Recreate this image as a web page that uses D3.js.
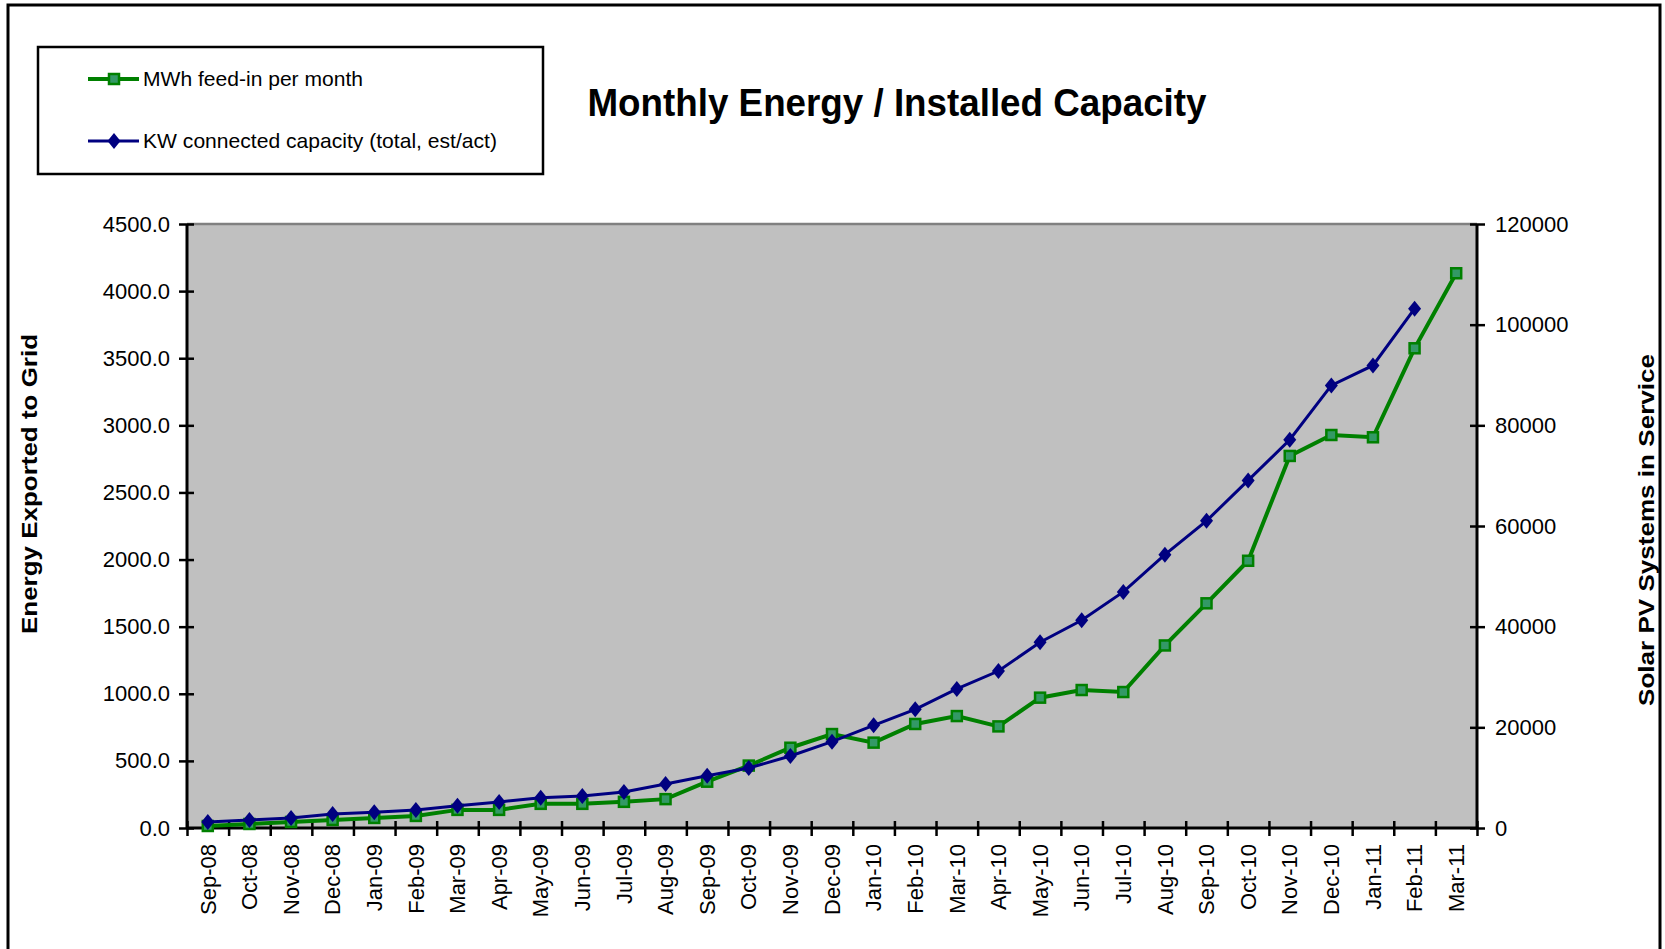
<html>
<head>
	<meta charset="utf-8">
	<title>Monthly Energy / Installed Capacity</title>
	<style>
		body { margin:0; background:#fff; }
		text { font-family:"Liberation Sans", Arial, sans-serif; }
		.axis path { display:none; }
		.axis line { stroke:#000; stroke-width:2.5; }
	</style>
	<script src="https://d3js.org/d3.v7.min.js" charset="utf-8"></script>
</head>

<body>
	<script type="text/javascript">

		/**************Data*****************/
		var months = ["Sep-08","Oct-08","Nov-08","Dec-08","Jan-09","Feb-09","Mar-09","Apr-09","May-09","Jun-09",
			"Jul-09","Aug-09","Sep-09","Oct-09","Nov-09","Dec-09","Jan-10","Feb-10","Mar-10","Apr-10",
			"May-10","Jun-10","Jul-10","Aug-10","Sep-10","Oct-10","Nov-10","Dec-10","Jan-11","Feb-11","Mar-11"];
		// MWh feed-in per month (left axis)
		var feedIn = [15, 30, 45, 60, 75, 90, 135, 135, 180, 180,
			195, 215, 345, 465, 598, 700, 636, 775, 834, 757,
			971, 1028, 1013, 1360, 1674, 1991, 2772, 2928, 2911, 3574, 4133];
		// KW connected capacity (right axis), no value for Mar-11
		var capacity = [1200, 1600, 2000, 2780, 3110, 3580, 4440, 5170, 6030, 6360,
			7150, 8740, 10390, 11920, 14300, 17150, 20400, 23580, 27620, 31190,
			36900, 41260, 46900, 54300, 61030, 69050, 77130, 87930, 91900, 103180, null];
		var leftTicks = [0,500,1000,1500,2000,2500,3000,3500,4000,4500];
		var rightTicks = [0,20000,40000,60000,80000,100000,120000];
		var seriesNames = ["MWh feed-in per month","KW connected capacity (total, est/act)"];

		/**************Basic layout*****************/
		var width = 1665, height = 949;
		var plot = {left:187, right:1477, top:224, bottom:828};
		var green = "#008000", greenFill = "#339966", navy = "#000080";

		var svg = d3.select("body")
				.append("svg")
				.attr("width",width)
				.attr("height",height);

		// outer frame (bottom runs off the page)
		svg.append("rect")
			.attr("x",8).attr("y",5)
			.attr("width",1652).attr("height",1000)
			.attr("fill","#fff")
			.attr("stroke","#000")
			.attr("stroke-width",3);

		/**************Scales*****************/
		var xBand = d3.scaleBand()
				.domain(months)
				.range([plot.left,plot.right])
				.padding(0);
		var xEdge = d3.scaleLinear()
				.domain([0,months.length])
				.range([plot.left,plot.right]);
		var yLeft = d3.scaleLinear()
				.domain([0,4500])
				.range([plot.bottom,plot.top]);
		var yRight = d3.scaleLinear()
				.domain([0,120000])
				.range([plot.bottom,plot.top]);
		function cx(d){ return xBand(d) + xBand.bandwidth()/2; }

		// plot area
		svg.append("rect")
			.attr("x",plot.left).attr("y",plot.top)
			.attr("width",plot.right-plot.left).attr("height",plot.bottom-plot.top)
			.attr("fill","#c0c0c0");
		svg.append("line")
			.attr("x1",plot.left).attr("x2",plot.right)
			.attr("y1",plot.top).attr("y2",plot.top)
			.attr("stroke","#808080").attr("stroke-width",2.5);

		/**************Axes*****************/
		var gLeft = svg.append("g").attr("class","axis")
				.attr("transform","translate("+plot.left+",0)")
				.call(d3.axisLeft(yLeft).tickValues(leftTicks).tickFormat(d3.format(".1f")).tickSize(8).tickPadding(9));
		gLeft.selectAll(".tick line").attr("x1",7);
		gLeft.selectAll("text").attr("font-size",22).attr("fill","#000");

		var gRight = svg.append("g").attr("class","axis")
				.attr("transform","translate("+plot.right+",0)")
				.call(d3.axisRight(yRight).tickValues(rightTicks).tickFormat(d3.format("d")).tickSize(8).tickPadding(10));
		gRight.selectAll(".tick line").attr("x1",-7);
		gRight.selectAll("text").attr("font-size",22).attr("fill","#000");

		// category boundary ticks
		var gTicks = svg.append("g").attr("class","axis")
				.attr("transform","translate(0,"+plot.bottom+")")
				.call(d3.axisBottom(xEdge).tickValues(d3.range(months.length+1)).tickFormat("").tickSize(8));
		gTicks.selectAll(".tick line").attr("y1",-7);

		// month labels
		var gBottom = svg.append("g").attr("class","axis")
				.attr("transform","translate(0,"+plot.bottom+")")
				.call(d3.axisBottom(xBand).tickSize(0).tickPadding(0));
		gBottom.selectAll(".tick line").remove();
		gBottom.selectAll("text")
			.attr("font-size",22)
			.attr("fill","#000")
			.attr("text-anchor","end")
			.attr("transform","rotate(-90)")
			.attr("x",-16).attr("y",0).attr("dy","0.35em");

		// axis lines
		[[plot.left,plot.left,plot.top,plot.bottom],[plot.right,plot.right,plot.top,plot.bottom],[plot.left,plot.right,plot.bottom,plot.bottom]]
			.forEach(function(l){
				svg.append("line")
					.attr("x1",l[0]).attr("x2",l[1]).attr("y1",l[2]).attr("y2",l[3])
					.attr("stroke","#000").attr("stroke-width",3);
			});

		/**************Lines*****************/
		var greenLine = d3.line()
				.x(function(d,i){ return cx(months[i]); })
				.y(function(d){ return yLeft(d); });
		svg.append("path")
			.datum(feedIn)
			.attr("d",greenLine)
			.attr("fill","none")
			.attr("stroke",green)
			.attr("stroke-width",4);
		svg.selectAll(".sq")
			.data(feedIn)
			.enter()
			.append("rect")
			.attr("class","sq")
			.attr("x",function(d,i){ return cx(months[i]) - 5; })
			.attr("y",function(d){ return yLeft(d) - 5; })
			.attr("width",10).attr("height",10)
			.attr("fill",greenFill)
			.attr("stroke",green)
			.attr("stroke-width",2.5);

		var blueLine = d3.line()
				.defined(function(d){ return d !== null; })
				.x(function(d,i){ return cx(months[i]); })
				.y(function(d){ return yRight(d); });
		svg.append("path")
			.datum(capacity)
			.attr("d",blueLine)
			.attr("fill","none")
			.attr("stroke",navy)
			.attr("stroke-width",3);
		var diamond = "M0,-8L6.5,0L0,8L-6.5,0Z";
		svg.selectAll(".dm")
			.data(capacity.filter(function(d){ return d !== null; }))
			.enter()
			.append("path")
			.attr("class","dm")
			.attr("d",diamond)
			.attr("transform",function(d,i){ return "translate("+cx(months[i])+","+yRight(d)+")"; })
			.attr("fill",navy);

		/**************Titles*****************/
		svg.append("text")
			.attr("x",897).attr("y",116)
			.attr("text-anchor","middle")
			.attr("font-size",38).attr("font-weight","bold")
			.attr("textLength",619).attr("lengthAdjust","spacingAndGlyphs")
			.text("Monthly Energy / Installed Capacity");

		svg.append("text")
			.attr("transform","translate(37,484) rotate(-90)")
			.attr("text-anchor","middle")
			.attr("font-size",22).attr("font-weight","bold")
			.attr("textLength",300).attr("lengthAdjust","spacingAndGlyphs")
			.text("Energy Exported to Grid");

		svg.append("text")
			.attr("transform","translate(1654,530) rotate(-90)")
			.attr("text-anchor","middle")
			.attr("font-size",22).attr("font-weight","bold")
			.attr("textLength",352).attr("lengthAdjust","spacingAndGlyphs")
			.text("Solar PV Systems in Service");

		/**************Legend*****************/
		var legend = svg.append("g").attr("class","legend");
		legend.append("rect")
			.attr("x",38).attr("y",47)
			.attr("width",505).attr("height",127)
			.attr("fill","#fff")
			.attr("stroke","#000")
			.attr("stroke-width",2.5);

		var legendY = [79,141];
		var legendW = [220,354];
		legend.append("line")
			.attr("x1",88).attr("x2",139).attr("y1",legendY[0]).attr("y2",legendY[0])
			.attr("stroke",green).attr("stroke-width",4);
		legend.append("rect")
			.attr("x",109).attr("y",legendY[0]-5).attr("width",10).attr("height",10)
			.attr("fill",greenFill).attr("stroke",green).attr("stroke-width",2.5);
		legend.append("line")
			.attr("x1",88).attr("x2",139).attr("y1",legendY[1]).attr("y2",legendY[1])
			.attr("stroke",navy).attr("stroke-width",3);
		legend.append("path")
			.attr("d",diamond)
			.attr("transform","translate(114,"+legendY[1]+")")
			.attr("fill",navy);
		legend.selectAll(".legText")
			.data(seriesNames)
			.enter()
			.append("text")
			.attr("class","legText")
			.attr("x",143)
			.attr("y",function(d,i){ return legendY[i] + 7; })
			.attr("font-size",21)
			.attr("textLength",function(d,i){ return legendW[i]; })
			.attr("lengthAdjust","spacingAndGlyphs")
			.text(function(d){ return d; });

	</script>
</body>
</html>
